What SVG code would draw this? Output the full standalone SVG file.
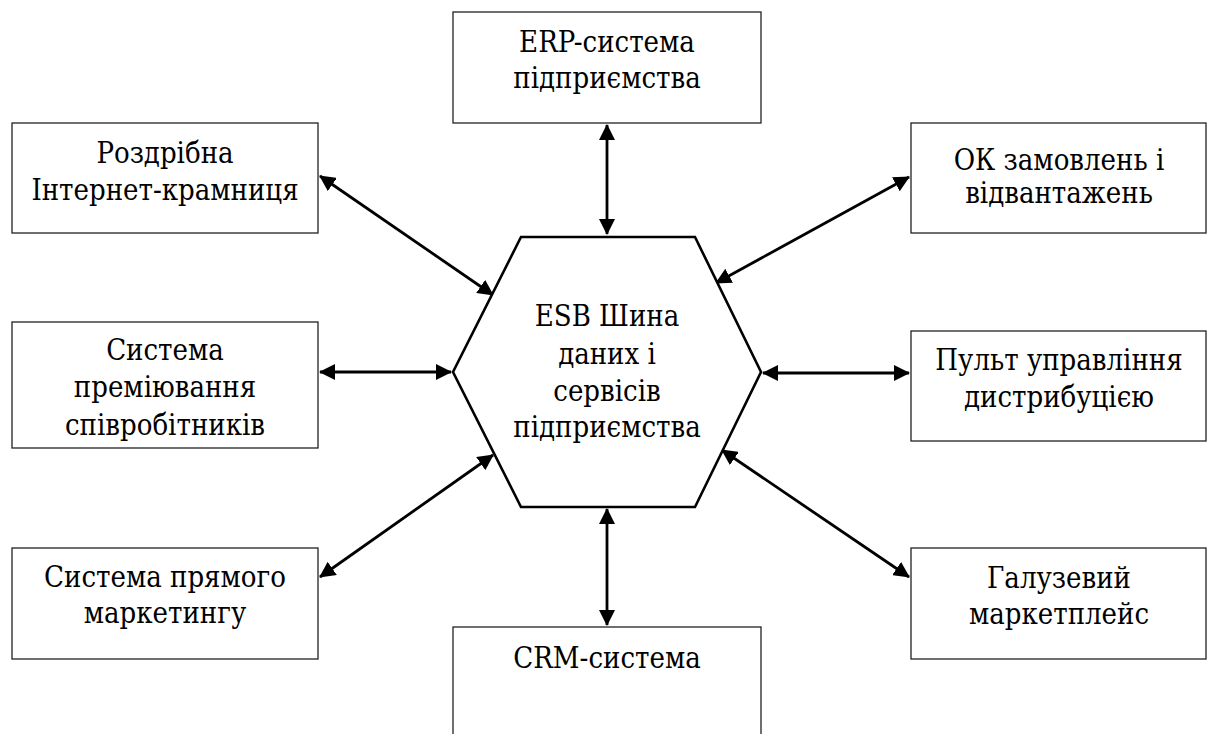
<svg xmlns="http://www.w3.org/2000/svg" width="1208" height="734" viewBox="0 0 1208 734">
<style>
.box{fill:#fff;stroke:#222;stroke-width:1.3}
.hex{fill:#fff;stroke:#000;stroke-width:2.6;stroke-linejoin:miter}
.t{font-family:"DejaVu Serif Condensed","DejaVu Serif","Liberation Serif",serif;font-size:29px;fill:#000;text-anchor:middle}
.c{stroke:#000;stroke-width:2.8;fill:none;marker-start:url(#ah);marker-end:url(#ah)}
</style>
<defs>
<marker id="ah" markerUnits="userSpaceOnUse" markerWidth="16" markerHeight="16" refX="15" refY="8" orient="auto-start-reverse">
<path d="M0,0 L16,8 L0,16 z" fill="#000"/>
</marker>
</defs>
<rect width="1208" height="734" fill="#fff"/>
<g id="connectors">
<line class="c" x1="607" y1="125" x2="607" y2="234"/>
<line class="c" x1="607" y1="509" x2="607" y2="625"/>
<line class="c" x1="320" y1="372" x2="451" y2="372"/>
<line class="c" x1="763" y1="373" x2="909" y2="373"/>
<line class="c" x1="320" y1="176" x2="493" y2="295"/>
<line class="c" x1="909" y1="177" x2="716" y2="283"/>
<line class="c" x1="320" y1="577" x2="493" y2="455"/>
<line class="c" x1="909" y1="577" x2="722" y2="450"/>
</g>
<g id="hub">
<polygon class="hex" points="521,237 695,237 761,372 695,507 521,507 453,372"/>
<text class="t" x="607" y="326">ESB Шина</text>
<text class="t" x="607" y="364">даних і</text>
<text class="t" x="607" y="401">сервісів</text>
<text class="t" x="607" y="437">підприємства</text>
</g>
<g id="erp">
<rect class="box" x="453" y="12" width="308" height="111"/>
<text class="t" x="607" y="52">ERP-система</text>
<text class="t" x="607" y="88">підприємства</text>
</g>
<g id="retail">
<rect class="box" x="12" y="123" width="306" height="110"/>
<text class="t" x="165" y="163">Роздрібна</text>
<text class="t" x="165" y="200">Інтернет-крамниця</text>
</g>
<g id="orders">
<rect class="box" x="911" y="123" width="295" height="110"/>
<text class="t" x="1059" y="170">ОК замовлень і</text>
<text class="t" x="1059" y="203">відвантажень</text>
</g>
<g id="bonus">
<rect class="box" x="12" y="322" width="306" height="126"/>
<text class="t" x="165" y="360">Система</text>
<text class="t" x="165" y="397">преміювання</text>
<text class="t" x="165" y="435">співробітників</text>
</g>
<g id="distribution">
<rect class="box" x="911" y="331" width="295" height="110"/>
<text class="t" x="1059" y="370">Пульт управління</text>
<text class="t" x="1059" y="407">дистрибуцією</text>
</g>
<g id="direct">
<rect class="box" x="12" y="548" width="306" height="111"/>
<text class="t" x="165" y="587">Система прямого</text>
<text class="t" x="165" y="623">маркетингу</text>
</g>
<g id="marketplace">
<rect class="box" x="911" y="548" width="295" height="111"/>
<text class="t" x="1059" y="588">Галузевий</text>
<text class="t" x="1059" y="624">маркетплейс</text>
</g>
<g id="crm">
<rect class="box" x="453" y="627" width="308" height="115"/>
<text class="t" x="607" y="668">CRM-система</text>
</g>
</svg>
